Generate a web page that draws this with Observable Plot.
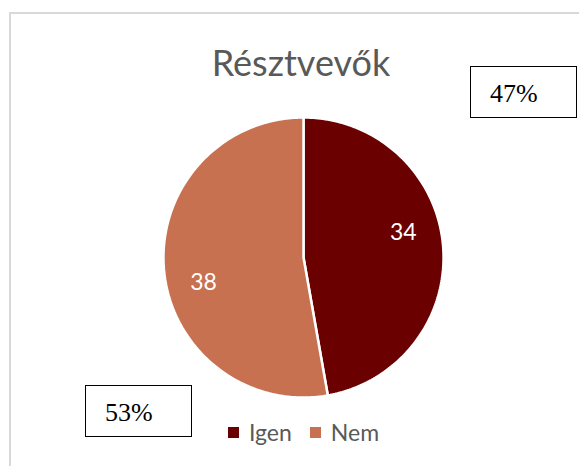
<!DOCTYPE html>
<html>
<head>
<meta charset="utf-8">
<script src="https://cdn.jsdelivr.net/npm/d3@7"></script>
<script src="https://cdn.jsdelivr.net/npm/@observablehq/plot@0.6"></script>
<style>
  html, body { margin: 0; padding: 0; background: #fff; }
  #wrap { position: relative; width: 579px; height: 466px; overflow: hidden; background: #fff; }
  #frame { position: absolute; left: 9px; top: 12px; width: 620px; height: 520px;
           border-left: 2px solid #d9d9d9; border-top: 2px solid #d9d9d9; }
  #title { position: absolute; left: 0; width: 602px; top: 40px; text-align: center;
           font-family: Lato, "Open Sans", sans-serif; font-size: 36px; color: #595959; line-height: 44px; }
  #pie { position: absolute; left: 161px; top: 115px; }
  #pie svg text { font-family: Lato, "Open Sans", sans-serif; }
  .box { position: absolute; border: 1.5px solid #000; box-sizing: border-box; background: #fff;
         font-family: "Liberation Serif", "Times New Roman", serif; font-size: 26px; color: #000; }
  .box span { position: absolute; left: 19px; top: 12px; line-height: 30px; }
  #legend { position: absolute; left: 228px; top: 420px; height: 24px;
            font-family: Lato, "Open Sans", sans-serif; font-size: 23px; color: #595959; display: flex; align-items: center; }
  .sw { display: inline-block; width: 11px; height: 11px; margin-right: 10px; }
  .item { display: flex; align-items: center; margin-right: 18px; }
</style>
</head>
<body>
<div id="wrap">
  <div id="frame"></div>
  <div id="title"></div>
  <div id="pie"></div>
  <div id="legend"></div>
</div>
<script>
const title = "Résztvevők";
const categories = ["Igen", "Nem"];
const values = [34, 38];
const colors = ["#6b0000", "#c87150"];
const percentLabels = ["47%", "53%"];

document.getElementById("title").textContent = title;

const slices = d3.pie().sort(null).value(d => d.value)(categories.map((name, i) => ({name, value: values[i]})));

const arcPts = [];
for (const s of slices) {
  arcPts.push({name: s.data.name, x: 0, y: 0});
  const n = Math.max(2, Math.ceil((s.endAngle - s.startAngle) / (Math.PI / 180)));
  for (let k = 0; k <= n; k++) {
    const a = s.startAngle + (s.endAngle - s.startAngle) * k / n;
    arcPts.push({name: s.data.name, x: Math.sin(a), y: Math.cos(a)});
  }
  arcPts.push({name: s.data.name, x: 0, y: 0});
}

const labelShift = -9 * Math.PI / 180, labelR = 0.735;
const labelPts = slices.map(s => {
  const a = (s.startAngle + s.endAngle) / 2 + labelShift;
  return {name: s.data.name, value: s.data.value, x: labelR * Math.sin(a), y: labelR * Math.cos(a)};
});

const R = 1.014;
const chart = Plot.plot({
  width: 284, height: 284, margin: 0,
  x: {domain: [-R, R], axis: null},
  y: {domain: [-R, R], axis: null},
  color: {domain: categories, range: colors},
  style: {background: "transparent", overflow: "visible", fontFamily: "Lato, sans-serif"},
  marks: [
    Plot.line(arcPts, {x: "x", y: "y", z: "name", fill: "name", stroke: "white", strokeWidth: 2.5, strokeLinejoin: "miter", curve: "linear"}),
    Plot.text(labelPts, {x: "x", y: "y", text: d => String(d.value), fill: "white", fontSize: 23,
      fontFamily: "Lato", textAnchor: "middle", lineAnchor: "middle"})
  ]
});
document.getElementById("pie").appendChild(chart);

const legend = document.getElementById("legend");
categories.forEach((c, i) => {
  const it = document.createElement("div");
  it.className = "item";
  const sw = document.createElement("span");
  sw.className = "sw";
  sw.style.background = colors[i];
  it.appendChild(sw);
  it.appendChild(document.createTextNode(c));
  legend.appendChild(it);
});

const boxPos = [{left: 470, top: 66}, {left: 85, top: 385}];
const wrap = document.getElementById("wrap");
percentLabels.forEach((p, i) => {
  const b = document.createElement("div");
  b.className = "box";
  b.style.left = boxPos[i].left + "px";
  b.style.top = boxPos[i].top + "px";
  b.style.width = "107px";
  b.style.height = "52px";
  const s = document.createElement("span");
  s.textContent = p;
  b.appendChild(s);
  wrap.appendChild(b);
});
</script>
</body>
</html>
